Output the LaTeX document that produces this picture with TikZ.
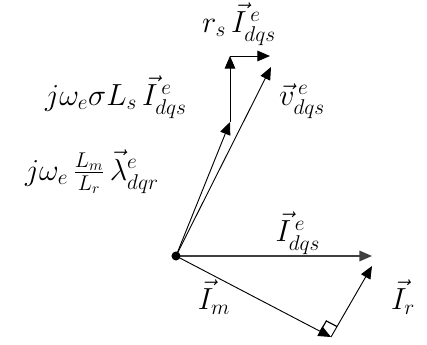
\documentclass[tikz,border=0pt]{standalone}
\usepackage{fix-cm}
\usepackage{amsmath}
\usetikzlibrary{arrows.meta,calc}

\begin{document}
\begin{tikzpicture}[x=0.0265cm,y=-0.0265cm,
  vec/.style={-{Triangle[length=9.5pt,width=8pt]},line width=0.7pt},
  lab/.style={font=\fontsize{23}{27}\selectfont,inner sep=1pt}]
  \useasboundingbox (0,0) rectangle (427,345);
  % phasor end points
  \coordinate (o) at (176,256);
  \coordinate (lam) at (230,122);
  \coordinate (top) at (230,56);
  \coordinate (rs) at (270,56);
  \coordinate (v) at (271,67);
  \coordinate (is) at (372,256);
  \coordinate (im) at (331,337);
  \coordinate (ir) at (372,266);
  \draw[vec] (o) -- (lam);
  \draw[vec] (lam) -- (top);
  \draw[vec] (top) -- (rs);
  \draw[vec] (o) -- (v);
  \draw[vec,line width=1pt,draw=black!75] (o) -- (is);
  \draw[vec] (o) -- (im);
  \draw[vec] (im) -- (ir);
  % right angle mark
  \coordinate (sqa) at ($(im)!0.32cm!(o)$);
  \coordinate (sqb) at ($(im)!0.32cm!(ir)$);
  \draw[line width=0.9pt] (sqa) -- ($(sqa)+(sqb)-(im)$) -- (sqb);
  \fill (o) circle (3.4pt);
  % labels
  \node[lab] (l1) at (239,24) {$r_s\,\vec{I}^{\,e}_{dqs}$};
  \node[lab] (l2) at (116,97) {$j\omega_e\sigma L_s\,\vec{I}^{\,e}_{dqs}$};
  \node[lab] (l3) at (302,101) {$\vec{v}^{\,e}_{dqs}$};
  \node[lab] (l4) at (92,172) {$j\omega_e\,\frac{L_m}{L_r}\,\vec{\lambda}^{e}_{dqr}$};
  \node[lab] (l5) at (298,233) {$\vec{I}^{\,e}_{dqs}$};
  \node[lab] (l6) at (214,297) {$\vec{I}_m$};
  \node[lab] (l7) at (403,297) {$\vec{I}_r$};
\end{tikzpicture}
\end{document}
